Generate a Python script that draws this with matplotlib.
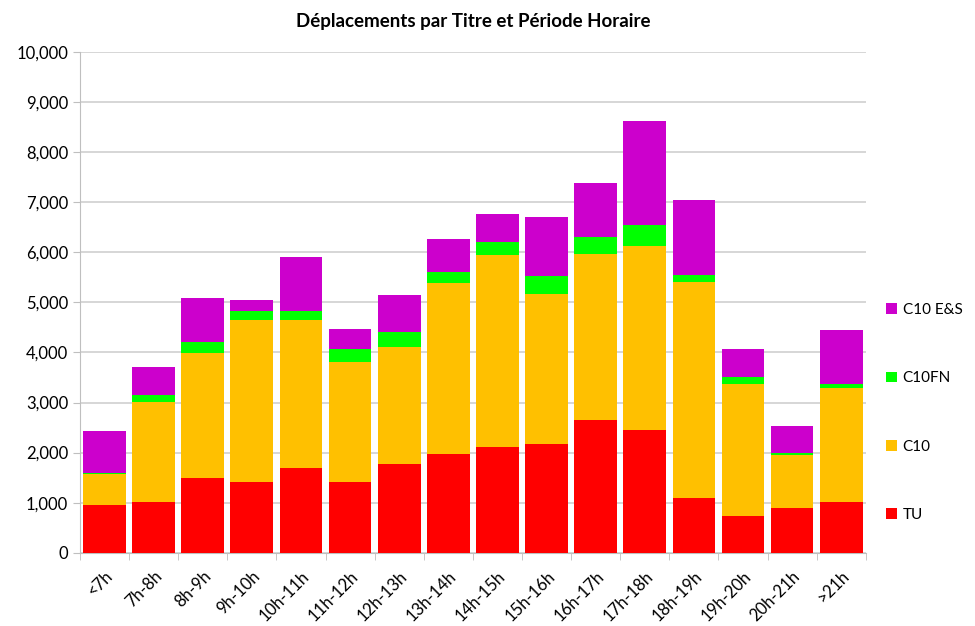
import matplotlib.pyplot as plt
import numpy as np
from matplotlib.ticker import FuncFormatter, FixedLocator

# Plages horaires
periodes = ["<7h", "7h-8h", "8h-9h", "9h-10h", "10h-11h", "11h-12h", "12h-13h", "13h-14h",
            "14h-15h", "15h-16h", "16h-17h", "17h-18h", "18h-19h", "19h-20h", "20h-21h", ">21h"]

# Déplacements par titre
tu = [947, 1007, 1500, 1407, 1700, 1407, 1780, 1973, 2120, 2173, 2660, 2447, 1093, 740, 900, 1007]
c10 = [626, 2006, 2480, 3240, 2947, 2400, 2333, 3420, 3820, 2994, 3300, 3686, 4307, 2627, 1047, 2286]
c10fn = [27, 140, 227, 180, 180, 253, 287, 207, 273, 360, 353, 414, 147, 146, 40, 74]
c10es = [840, 554, 873, 213, 1080, 413, 747, 660, 554, 1180, 1080, 2066, 1506, 547, 546, 1086]

plt.rcParams['font.family'] = ['Lato', 'DejaVu Sans']

fig = plt.figure(figsize=(9.75, 6.26), dpi=100)
ax = fig.add_axes([0.082, 0.117, 0.806, 0.8])

x = np.arange(len(periodes))
series = [("TU", tu, "#FF0000"), ("C10", c10, "#FFC000"),
          ("C10FN", c10fn, "#00FF00"), ("C10 E&S", c10es, "#CC00CC")]
bas = np.zeros(len(periodes))
for nom, vals, couleur in series:
    ax.bar(x, vals, bottom=bas, width=0.87, color=couleur, label=nom, zorder=3)
    bas += np.array(vals)

ax.set_xlim(-0.5, len(periodes) - 0.5)
ax.set_ylim(0, 10000)
ax.set_yticks(range(0, 10001, 1000))
ax.yaxis.set_major_formatter(FuncFormatter(lambda v, p: f"{int(v):,}"))
ax.grid(axis='y', color='#d0d0d0', linewidth=1.2, zorder=0)

# ticks de l'axe x entre les catégories
ax.set_xticks(x)
ax.set_xticklabels(periodes, rotation=45, ha='right', rotation_mode='anchor', fontsize=12)
ax.tick_params(axis='x', length=0, pad=11)
ax.xaxis.set_minor_locator(FixedLocator(np.arange(-0.5, len(periodes), 1)))
ax.tick_params(axis='x', which='minor', length=5, color='#bfbfbf')
ax.tick_params(axis='y', length=5, color='#bfbfbf', labelsize=12)

for s in ['top', 'right']:
    ax.spines[s].set_visible(False)
for s in ['left', 'bottom']:
    ax.spines[s].set_color('#bfbfbf')

ax.set_title("Déplacements par Titre et Période Horaire", fontsize=13.5, fontweight='bold', pad=18)

handles, labels = ax.get_legend_handles_labels()
ax.legend(handles[::-1], labels[::-1], loc='center left', bbox_to_anchor=(1.008, 0.28),
          frameon=False, fontsize=11, labelspacing=3.55, handlelength=0.7, handleheight=0.7,
          handletextpad=0.4)

fig.savefig("out.png", dpi=100)
